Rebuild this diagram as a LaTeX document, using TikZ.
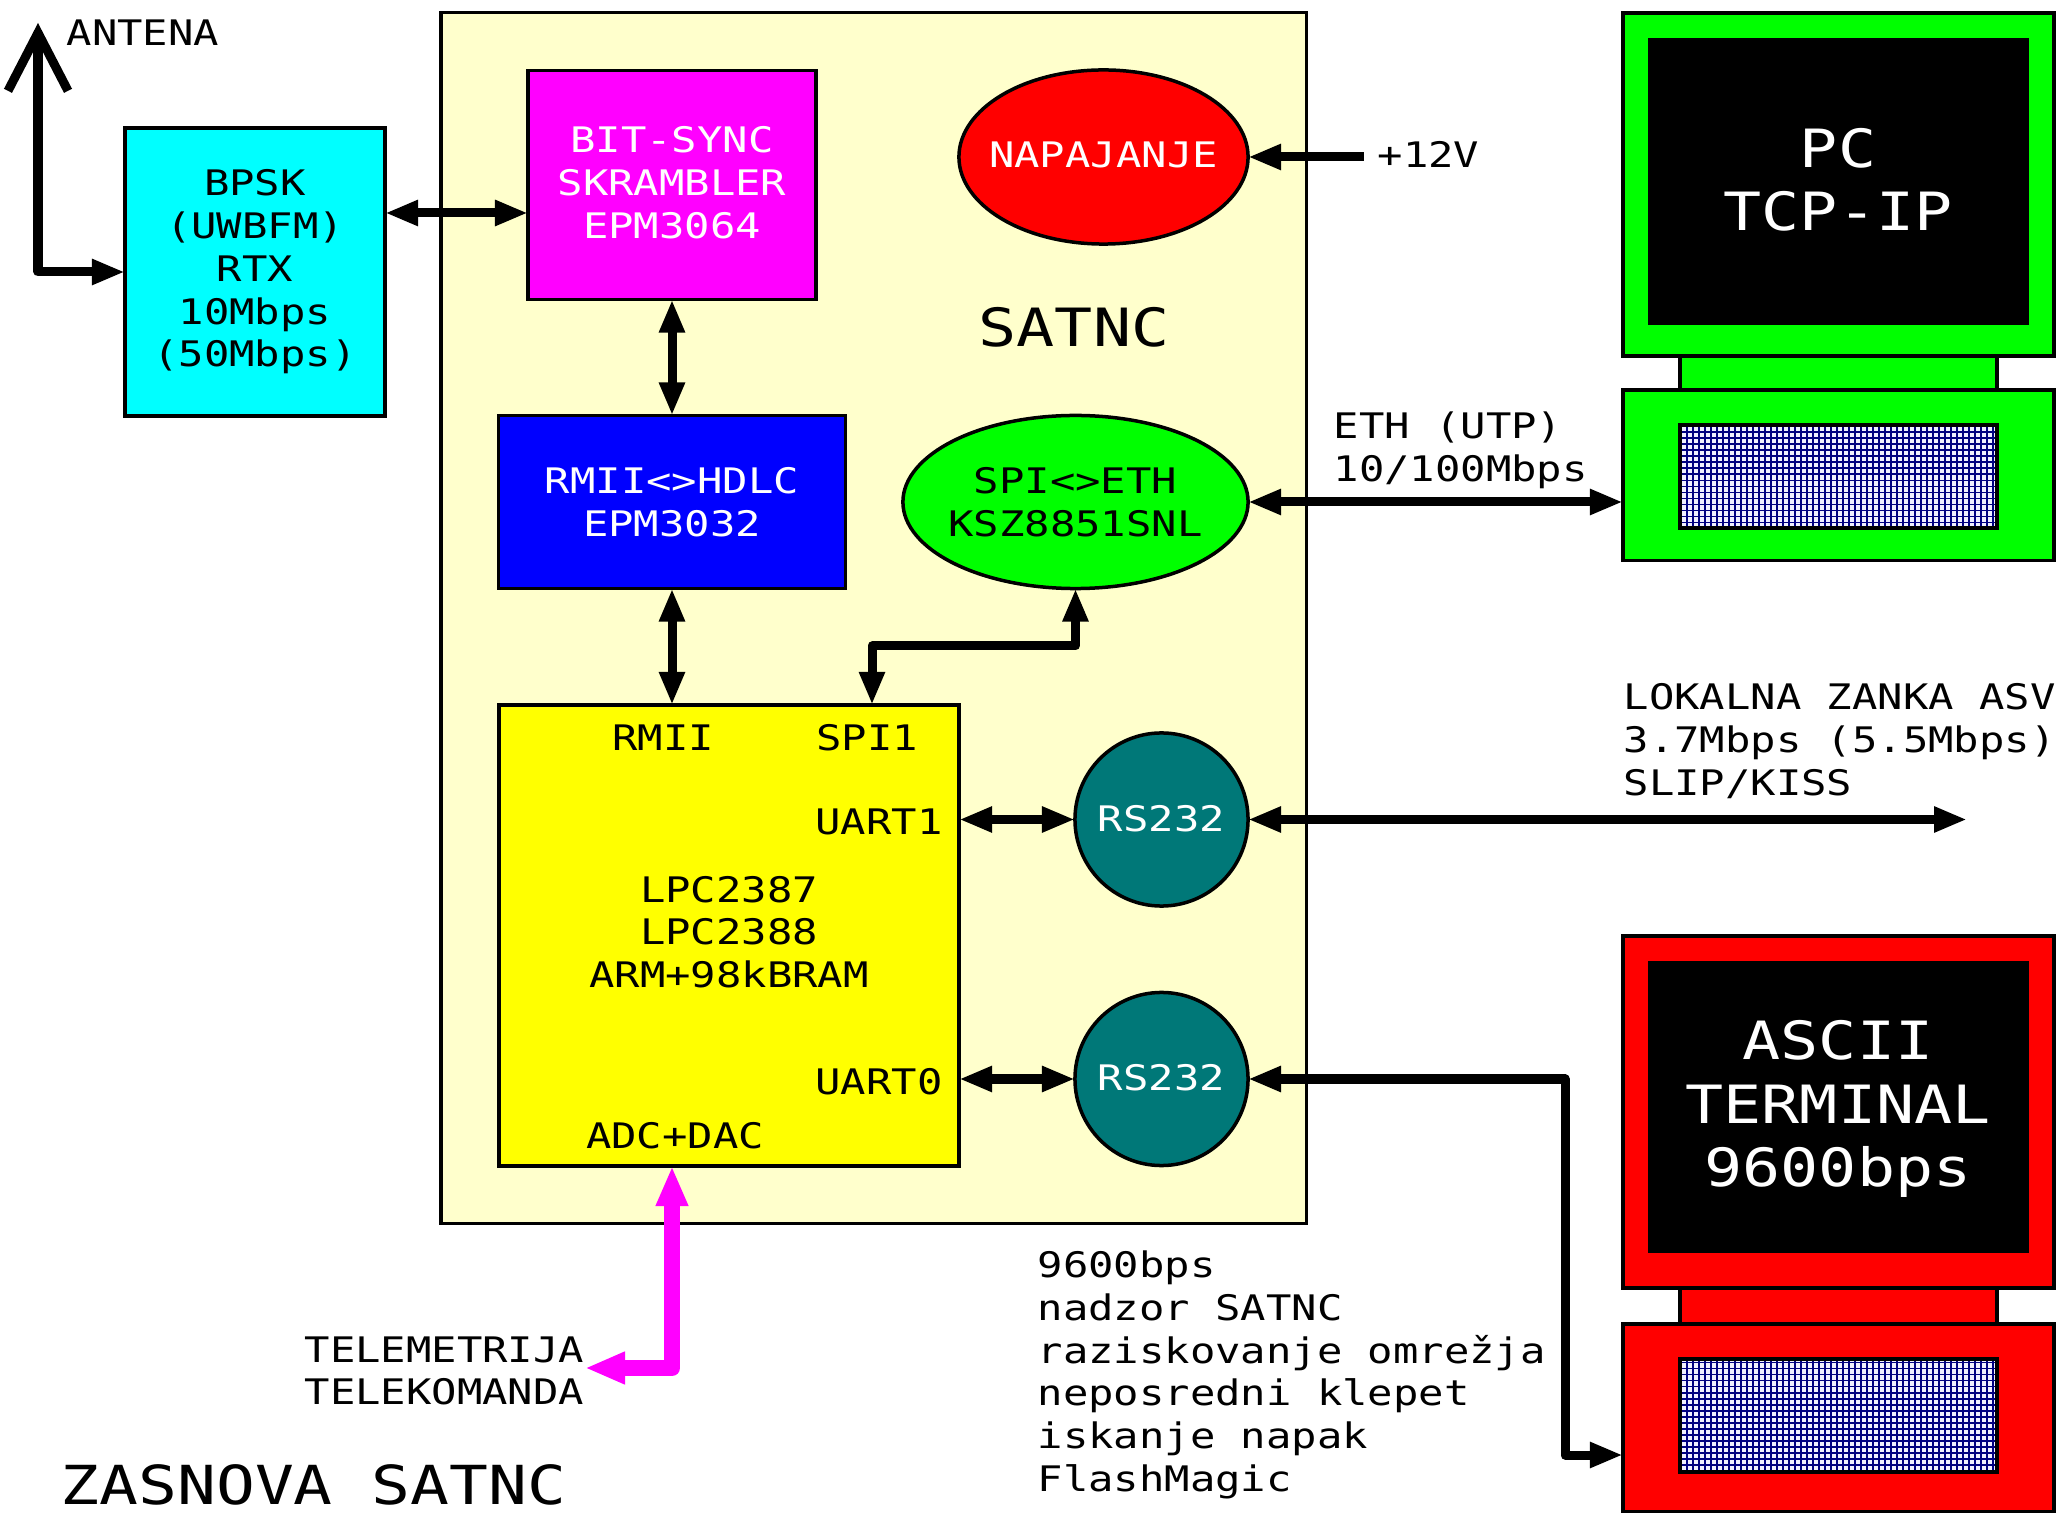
\documentclass[tikz,border=0pt]{standalone}
\usepackage{fontspec}
\setmainfont[FakeStretch=1.2]{DejaVu Sans Mono}
\usepackage{tikz}
\usetikzlibrary{arrows.meta, shapes.geometric}
\definecolor{ozadje}{HTML}{FFFFCC}
\definecolor{turkizna}{HTML}{007878}
\definecolor{mreza}{HTML}{F0F0FF}
\definecolor{limeta}{HTML}{00FF00}
\definecolor{temnomodra}{HTML}{000080}
\definecolor{cijan}{HTML}{00FFFF}
\definecolor{skrlatna}{HTML}{FF00FF}
\definecolor{rumena}{HTML}{FFFF00}
\tikzset{
	crta/.style={line width=0.035cm},
	blok/.style={draw, crta, rectangle, inner sep=0, outer sep=0},
	elipsa/.style={draw, crta, ellipse, inner ysep=0, inner xsep=-0.3cm, outer sep=0},
	krog/.style={draw, crta, circle, inner sep=0, outer sep=0, minimum size=1.73cm, fill=turkizna, text=white, text depth=0.03cm},
	puscica/.style={line width=0.09cm, line join=round, >={Triangle[length=0.33cm,width=0.24cm]}},
	velik/.style={font=\fontsize{15}{18}\selectfont},
}

\begin{document}
\begin{tikzpicture}[x=0.01cm, y=-0.01cm, every node/.style={font=\fontsize{10}{12.15}\selectfont, align=center, inner sep=0}]
			\useasboundingbox (0,0) rectangle (2066,1519);
			
			\node (satnc) [blok, fill=ozadje, minimum width=8.65cm, minimum height=12.10cm] at (873.5,618) {};
			\node (bpsk) [blok, fill=cijan, minimum width=2.60cm, minimum height=2.88cm] at (255,272) {BPSK\\(UWBFM)\\RTX\\10Mbps\\(50Mbps)};
			\node (sync) [blok, fill=skrlatna, text=white, text depth=0.05cm, minimum width=2.88cm, minimum height=2.29cm] at (672,185) {BIT-SYNC\\SKRAMBLER\\EPM3064};
			\node (rmii) [blok, fill=blue, text=white, minimum width=3.47cm, minimum height=1.73cm] at (672,502) {RMII<>HDLC\\EPM3032};
			\node (lpc) [blok, fill=rumena, minimum width=4.60cm, minimum height=4.61cm] at (729,935.5) {};
			\node (napajanje) [elipsa, fill=red, text=white, text depth=0.05cm, minimum width=2.89cm, minimum height=1.74cm] at (1103.5,157) {NAPAJANJE};
			\node (spieth) [elipsa, fill=limeta, minimum width=3.45cm, minimum height=1.73cm] at (1075.5,502) {SPI<>ETH\\KSZ8851SNL};
			\node (rsena) [krog] at (1161.5,819.5) {RS232};
			\node (rsdva) [krog] at (1161.5,1079) {RS232};
			
			\foreach \ime/\barva/\vrh/\vm/\vz/\vv/\vp/\vr in {pc/limeta/13/3.43/2.83/0.34/1.70/1.03, ascii/red/936/3.52/2.88/0.36/1.87/1.13}
			{
				\node (\ime mon) [blok, fill=\barva, minimum width=4.31cm, minimum height=\vm cm, anchor=north] at (1838.5,\vrh) {};
				\node (\ime zas) [blok, fill=black, minimum width=3.78cm, minimum height=\vz cm, anchor=north] at ([yshift=-0.27cm]\ime mon.north) {};
				\node (\ime vrat) [blok, fill=\barva, minimum width=3.17cm, minimum height=\vv cm, anchor=north] at (\ime mon.south) {};
				\node (\ime pod) [blok, fill=\barva, minimum width=4.31cm, minimum height=\vp cm, anchor=north] at (\ime vrat.south) {};
				\node (\ime mre) [blok, fill=mreza, minimum width=3.17cm, minimum height=\vr cm, anchor=north] at ([yshift=-0.35cm]\ime pod.north) {};
				\draw [temnomodra, line width=0.015cm, xstep=0.06cm, ystep=0.06cm] (\ime mre.south west) grid (\ime mre.north east);
				\draw [line width=0.04cm] (\ime mre.south west) rectangle (\ime mre.north east);
			}
			
			\node (pctekst) [velik, text=white] at (1838,180) {PC\\TCP-IP};
			\node (asciitekst) [velik, text=white] at (1838,1109) {ASCII\\TERMINAL\\9600bps};
			\node (naslov) [velik] at (1074,327) {SATNC};
			\node (zasnova) [font=\fontsize{15.3}{18}\selectfont, anchor=west] at (60,1485) {ZASNOVA SATNC};
			\node (antena) [anchor=west] at (66,33) {ANTENA};
			\node (dvanajst) [anchor=west] at (1377,154) {+12V};
			\node (eth) [anchor=west, align=left] at (1333,450) {ETH (UTP)\\10/100Mbps};
			\node (zanka) [anchor=west, align=left] at (1623,741) {LOKALNA ZANKA ASV\\3.7Mbps (5.5Mbps)\\SLIP/KISS};
			\node (vrsta) [anchor=west, align=left] at (1037,1375) {9600bps\\nadzor SATNC\\raziskovanje omrežja\\neposredni klepet\\iskanje napak\\FlashMagic};
			\node (telemetrija) [anchor=west, align=left] at (304,1371) {TELEMETRIJA\\TELEKOMANDA};
			\node (rmiinap) at (663,738) {RMII};
			\node (spinap) at (867,738) {SPI1};
			\node (uartena) at (879,822) {UART1};
			\node (uartdva) at (879,1082) {UART0};
			\node (cpu) at (729,932) {LPC2387\\LPC2388\\ARM+98kBRAM};
			\node (adc) at (675,1136) {ADC+DAC};
			
			\coordinate (vrh) at (38,23);
			\coordinate (vhod) at (38,272);
			\coordinate (syncvhod) at (528,213);
			\coordinate (spikoleno) at (872,646);
			\coordinate (dvanajstv) at (1364,157);
			\coordinate (zankakonec) at (1967,819.5);
			\coordinate (terminal) at (1565,1455);
			\coordinate (telem) at (585,1368);
			
			\draw [puscica, {Straight Barb[length=0.58cm,width=0.60cm]}->] (vrh) -- (vhod) -- (bpsk.west);
			\draw [puscica, <->] (bpsk.east |- syncvhod) -- (syncvhod);
			\draw [puscica, <->] (sync.south) -- (rmii.north);
			\draw [puscica, <->] (rmii.south) -- (rmii.south |- lpc.north);
			\draw [puscica, <->] (spieth.south) |- (spikoleno) -- (spikoleno |- lpc.north);
			\draw [puscica, <->] (lpc.east |- rsena.west) -- (rsena.west);
			\draw [puscica, <->] (lpc.east |- rsdva.west) -- (rsdva.west);
			\draw [puscica, <->] (rsena.east) -- (zankakonec);
			\draw [puscica, <->] (spieth.east) -- (spieth.east -| pcpod.west);
			\draw [puscica, <-] (napajanje.east) -- (dvanajstv);
			\draw [puscica, <->] (rsdva.east) -| (terminal) -- (terminal -| asciipod.west);
			\draw [puscica, skrlatna, line width=0.16cm, >={Triangle[length=0.40cm,width=0.30cm]}, <->] (sync.south |- lpc.south) |- (telem);
			\end{tikzpicture}
\end{document}
